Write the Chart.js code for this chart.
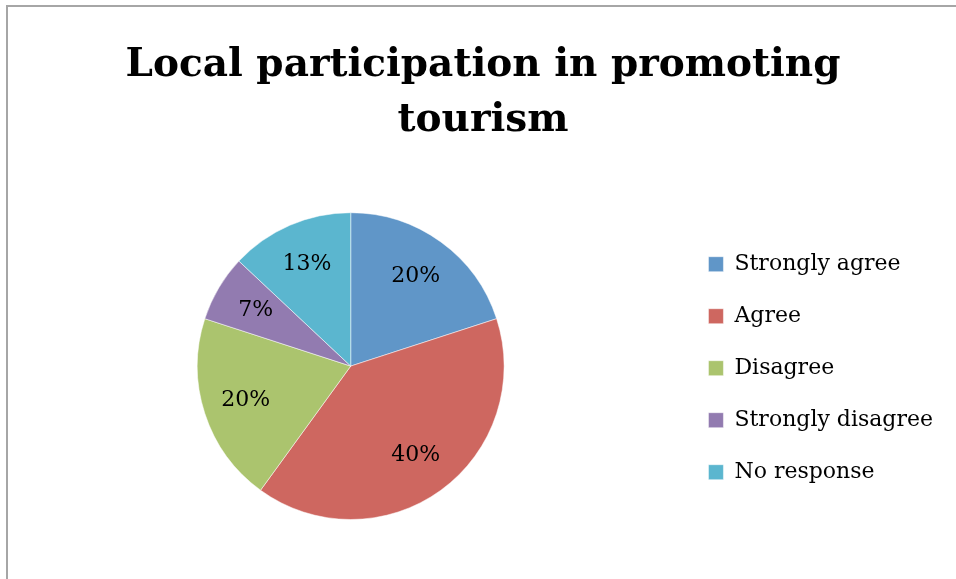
<!DOCTYPE html>
<html>
<head>
<meta charset="utf-8">
<script src="https://cdn.jsdelivr.net/npm/chart.js@4.4.1/dist/chart.umd.min.js"></script>
<style>
    html, body { margin: 0; padding: 0; background: #ffffff; }
    #frame {
        position: absolute; left: 6px; top: 5px; width: 960px; height: 590px;
        border-left: 2px solid #a6a6a6; border-top: 2px solid #a6a6a6;
    }
    #wrap { position: absolute; left: 0; top: 0; width: 956px; height: 579px; }
</style>
</head>
<body>
<div id="frame"></div>
<div id="wrap"><canvas id="pieChart" width="956" height="579"></canvas></div>
<script>
// Chart data
const categories = ['Strongly agree', 'Agree', 'Disagree', 'Strongly disagree', 'No response'];
const shares = [20, 40, 20, 7, 13];
const sliceColors = ['#6096c8', '#ce6760', '#abc46e', '#927bb0', '#5bb6cf'];
const titleLines = ['Local participation in promoting', 'tourism'];

// Percent labels, placed along each slice's middle angle
const sliceLabels = {
    id: 'sliceLabels',
    afterDatasetsDraw(chart) {
        const ctx = chart.ctx;
        const meta = chart.getDatasetMeta(0);
        ctx.save();
        ctx.font = '22px "DejaVu Serif"';
        ctx.fillStyle = '#000000';
        ctx.textAlign = 'center';
        ctx.textBaseline = 'middle';
        meta.data.forEach((arc, i) => {
            const mid = (arc.startAngle + arc.endAngle) / 2;
            const r = arc.outerRadius * 0.72;
            ctx.fillText(shares[i] + '%', arc.x + Math.cos(mid) * r, arc.y + Math.sin(mid) * r);
        });
        ctx.restore();
    }
};

const pieCtx = document.getElementById('pieChart').getContext('2d');
new Chart(pieCtx, {
    type: 'pie',
    data: {
        labels: categories,
        datasets: [{
            data: shares,
            backgroundColor: sliceColors,
            borderColor: 'rgba(255,255,255,0.5)',
            borderWidth: 1
        }]
    },
    options: {
        responsive: false,
        animation: false,
        layout: { padding: { left: 23, right: 13, top: 0, bottom: 59 } },
        plugins: {
            title: {
                display: true,
                text: titleLines,
                color: '#000000',
                font: { family: '"DejaVu Serif"', size: 39, weight: 'bold', lineHeight: 1.4 },
                padding: { top: 39, bottom: 64 }
            },
            legend: {
                position: 'right',
                title: {
                    display: true,
                    text: '',
                    font: { size: 12 },
                    padding: { top: 0, bottom: 202 }
                },
                labels: {
                    color: '#000000',
                    font: { family: '"DejaVu Serif"', size: 22 },
                    boxWidth: 15,
                    boxHeight: 15,
                    padding: 30
                }
            },
            tooltip: { enabled: false }
        }
    },
    plugins: [sliceLabels]
});
</script>
</body>
</html>
